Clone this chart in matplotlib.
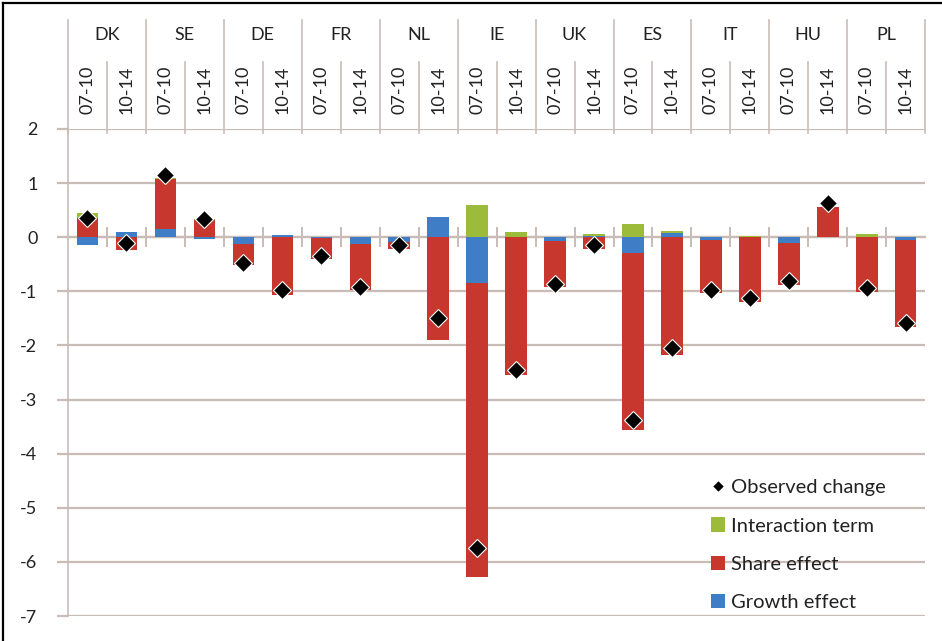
#!/usr/bin/env python3
"""
Shift-share decomposition of employment change by country and period.
Stacked bars (growth / share / interaction) + observed change markers.
"""

import numpy as np
import matplotlib
matplotlib.use('Agg')
import matplotlib.pyplot as plt
from matplotlib.lines import Line2D

# ==================== data ====================

countries = ['DK', 'SE', 'DE', 'FR', 'NL', 'IE', 'UK', 'ES', 'IT', 'HU', 'PL']
periods = ['07-10', '10-14']

growth_effect = [-0.14, 0.10, 0.15, -0.04, -0.12, 0.04, -0.02, -0.13, -0.08, 0.37, -0.85,
                 0.01, -0.07, 0.02, -0.29, 0.08, -0.06, 0.00, -0.10, 0.00, 0.00, -0.05]
share_effect = [0.35, -0.23, 0.93, 0.31, -0.40, -1.07, -0.39, -0.85, -0.13, -1.90, -5.43,
                -2.55, -0.85, -0.21, -3.28, -2.17, -0.97, -1.20, -0.79, 0.56, -1.01, -1.61]
interaction_term = [0.09, 0.00, 0.02, 0.02, 0.00, 0.00, 0.00, 0.00, 0.00, 0.00, 0.59,
                    0.08, 0.00, 0.03, 0.25, 0.04, 0.00, 0.02, 0.00, 0.00, 0.06, 0.00]
observed_change = [0.35, -0.10, 1.15, 0.33, -0.47, -0.98, -0.35, -0.92, -0.15, -1.50, -5.75,
                   -2.45, -0.87, -0.15, -3.37, -2.04, -0.97, -1.12, -0.81, 0.64, -0.93, -1.58]

y_ticks = [2, 1, 0, -1, -2, -3, -4, -5, -6, -7]

# ==================== style ====================

BLUE = '#3f7ec6'
RED = '#c8372d'
GREEN = '#9dbb3a'
GRID = '#c9bcb6'
TEXT = '#222222'

plt.rcParams['font.family'] = ['Lato', 'DejaVu Sans']
FS = 13
LEG_FS = 14.5

# ==================== plot ====================

fig = plt.figure(figsize=(9.42, 6.41), dpi=100)
ax = fig.add_axes([0.0722, 0.039, 0.910, 0.7598])

n = len(share_effect)
x = np.arange(n)
width = 0.55

# Excel-style stacking: positives stack upward, negatives downward
pos_bottom = np.zeros(n)
neg_bottom = np.zeros(n)
series = [(growth_effect, BLUE, 'Growth effect'),
          (share_effect, RED, 'Share effect'),
          (interaction_term, GREEN, 'Interaction term')]
handles = {}
for vals, color, label in series:
    vals = np.array(vals)
    bottom = np.where(vals >= 0, pos_bottom, neg_bottom)
    bars = ax.bar(x, vals, width, bottom=bottom, color=color, label=label, zorder=3)
    handles[label] = bars
    pos_bottom += np.where(vals >= 0, vals, 0)
    neg_bottom += np.where(vals < 0, vals, 0)

obs, = ax.plot(x, observed_change, linestyle='none', marker='D', markersize=9.5,
               markerfacecolor='black', markeredgecolor='white', markeredgewidth=0.8,
               zorder=5, label='Observed change')

# axes
ax.set_xlim(-0.5, n - 0.5)
ax.set_ylim(-7, 2)
ax.set_yticks(y_ticks)
ax.set_yticklabels([str(t) for t in y_ticks], fontsize=FS, color=TEXT)
ax.yaxis.grid(True, color=GRID, linewidth=1.6, zorder=0)
ax.tick_params(axis='y', length=8, width=1.6, color=GRID, pad=14)

for side in ['top', 'right']:
    ax.spines[side].set_visible(False)
ax.spines['left'].set_color(GRID)
ax.spines['left'].set_linewidth(1.2)

# horizontal axis at zero with crossing ticks at category boundaries
ax.spines['bottom'].set_position(('data', 0))
ax.spines['bottom'].set_color(GRID)
ax.spines['bottom'].set_linewidth(1.6)
ax.spines['bottom'].set_zorder(2)
ax.set_xticks(np.arange(0.5, n - 0.5, 1.0))
ax.set_xticklabels([])
ax.tick_params(axis='x', direction='inout', length=14, width=1.4, color=GRID)

# header with country / period labels
trans = ax.get_xaxis_transform()
for i in range(n):
    ax.text(i, 1.08, periods[i % 2], transform=trans, rotation=90,
            ha='center', va='center', fontsize=FS, color=TEXT)
for j, c in enumerate(countries):
    ax.text(2 * j + 0.5, 1.193, c, transform=trans, ha='center', va='center',
            fontsize=FS, color=TEXT)
for k in range(n + 1):
    top = 1.224 if k % 2 == 0 else 1.138
    ax.plot([k - 0.5, k - 0.5], [0.992, top], transform=trans, color=GRID,
            linewidth=1.2, clip_on=False)

# legend
leg = ax.legend([obs, handles['Interaction term'], handles['Share effect'], handles['Growth effect']],
                ['Observed change', 'Interaction term', 'Share effect', 'Growth effect'],
                loc='upper left', bbox_to_anchor=(0.729, 0.318), frameon=False,
                fontsize=LEG_FS, labelspacing=1.05, handlelength=0.7, handleheight=0.7,
                handletextpad=0.3, markerscale=0.6)
for t in leg.get_texts():
    t.set_color(TEXT)

# outer frame (top and left edges visible)
fig.add_artist(Line2D([0.0032, 1.0], [0.9953, 0.9953], color='black', linewidth=1.6))
fig.add_artist(Line2D([0.0032, 0.0032], [0.0, 0.9953], color='black', linewidth=1.6))

fig.savefig('out.png', dpi=100)
